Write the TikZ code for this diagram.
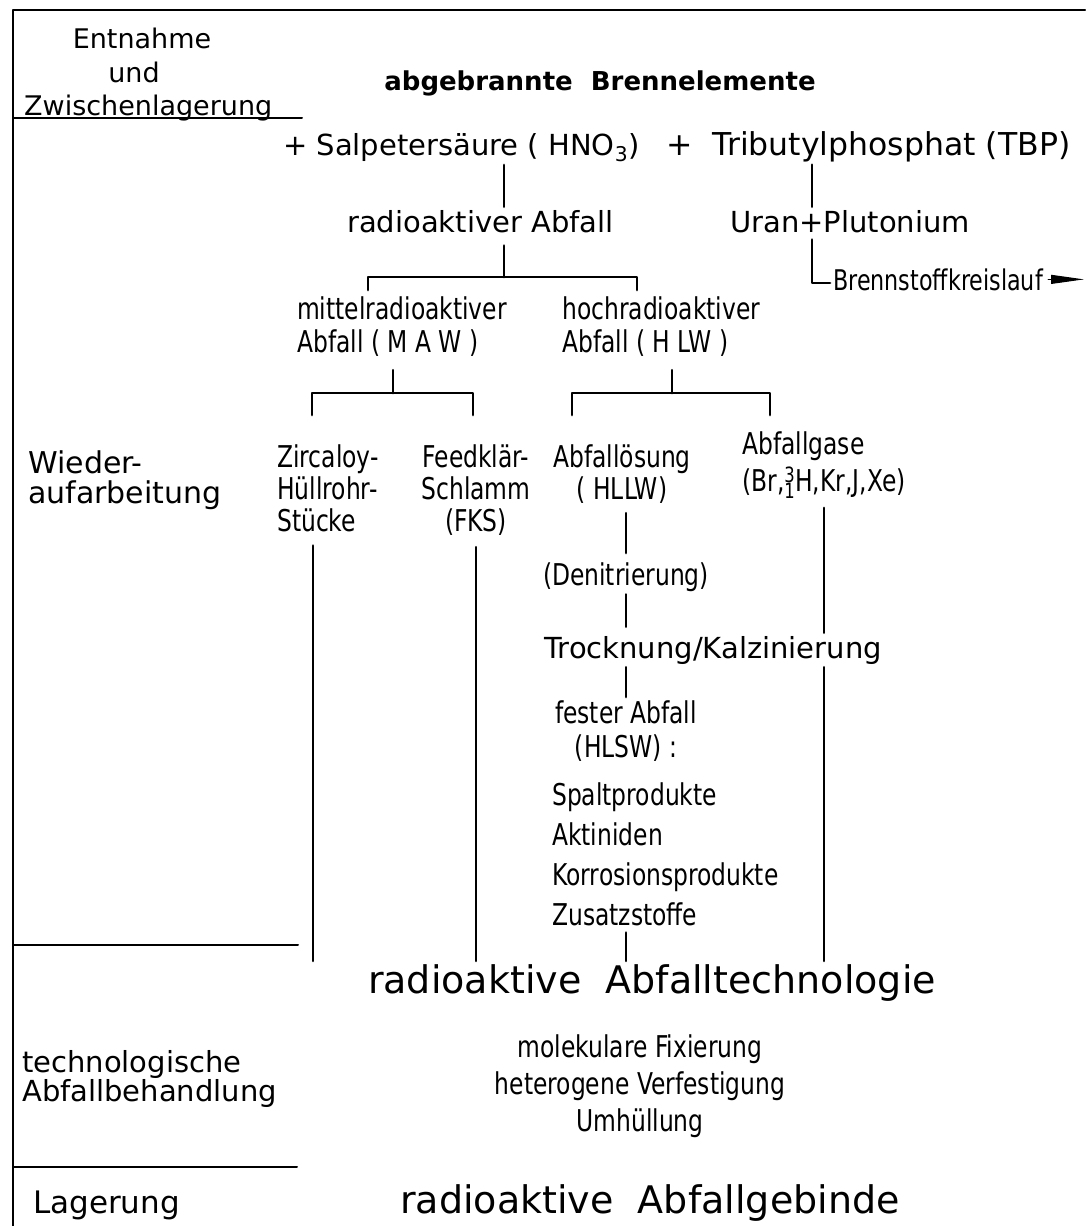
\documentclass[tikz,border=0pt]{standalone}
\usepackage{fontspec}
\setmainfont{DejaVu Sans}
\newfontfamily\narrowfont{DejaVu Sans}[FakeStretch=0.78]
\usetikzlibrary{arrows.meta}

\tikzset{
  wide/.style={font=\fontsize{29}{33}\selectfont, inner sep=3pt},
  narrow/.style={font=\narrowfont\fontsize{30}{32}\selectfont, inner sep=3pt},
  head/.style={font=\fontsize{38}{40}\selectfont, inner sep=3pt},
  link/.style={line width=2.8pt},
  rule/.style={line width=2pt},
  wedge/.style={line width=1pt, -{Triangle[length=33pt,width=9pt]}},
}

\begin{document}
\begin{tikzpicture}[x=1pt, y=-1pt, line join=round, line cap=round]
\useasboundingbox (0,0) rectangle (1085,1226);

% frame and left column
\draw[rule] (13,1226) -- (13,10) -- (1085,10);
\draw[rule] (13,118) -- (302,118);
\draw[rule] (13,945) -- (298,945);
\draw[rule] (13,1167) -- (297,1167);

\node[wide, font=\fontsize{27}{30}\selectfont, anchor=base] (entn) at (142,48) {Entnahme};
\node[wide, font=\fontsize{27}{30}\selectfont, anchor=base] (und) at (134,82) {und};
\node[wide, font=\fontsize{27}{30}\selectfont, anchor=base west] (zwl) at (21,115) {Zwischenlagerung};
\node[wide, font=\fontsize{30}{30}\selectfont, align=left, anchor=north west] (wied) at (25,448) {Wieder-\\aufarbeitung};
\node[wide, align=left, anchor=north west] (tbl) at (19,1047) {technologische\\[-4pt]Abfallbehandlung};
\node[wide, font=\fontsize{31}{33}\selectfont, anchor=base west] (lag) at (30,1213) {Lagerung};

% main column
\node[wide, font=\bfseries\fontsize{26}{30}\selectfont, anchor=base] (title) at (600,90) {abgebrannte\ \ Brennelemente};
\node[wide, anchor=base west] (salp) at (280,155) {+ Salpetersäure ( HNO\textsubscript{3})};
\node[wide, font=\fontsize{31.5}{33}\selectfont, anchor=base west] (tbp) at (663,155) {+ \ Tributylphosphat (TBP)};
\node[wide, anchor=base west] (rad) at (344,232) {radioaktiver Abfall};
\node[wide, anchor=base west] (uran) at (727,232) {Uran+Plutonium};
\node[narrow, font=\narrowfont\fontsize{28.5}{30}\selectfont, anchor=base west] (bsk) at (830,290) {Brennstoffkreislauf};

\node[narrow, font=\narrowfont\fontsize{30}{33}\selectfont, align=left, anchor=north west] (maw) at (294,294) {mittelradioaktiver\\Abfall ( M A W )};
\node[narrow, font=\narrowfont\fontsize{30}{33}\selectfont, align=left, anchor=north west] (hlw) at (559,294) {hochradioaktiver\\Abfall ( H LW )};

\node[narrow, align=left, anchor=north west] (zirc) at (274,442) {Zircaloy-\\Hüllrohr-\\Stücke};
\node[narrow, align=center, anchor=north] (fks) at (476,442) {Feedklär-\\Schlamm\\(FKS)};
\node[narrow, align=center, anchor=north] (hllw) at (622,442) {Abfallösung\\( HLLW)};
\node[narrow, font=\narrowfont\fontsize{30}{37}\selectfont, align=left, anchor=north west] (gas) at (739,429)
  {Abfallgase\\(Br,\rlap{\textsuperscript{3}}\textsubscript{1}H,Kr,J,Xe)};

\node[narrow, anchor=base] (den) at (626,585) {(Denitrierung)};
\node[wide, anchor=base] (trock) at (713,658) {Trocknung/Kalzinierung};
\node[narrow, font=\narrowfont\fontsize{30}{34}\selectfont, align=center, anchor=north] (fest) at (626,697) {fester Abfall\\(HLSW) :};
\node[narrow, font=\narrowfont\fontsize{30}{40}\selectfont, align=left, anchor=north west] (list) at (549,779)
  {Spaltprodukte\\Aktiniden\\Korrosionsprodukte\\Zusatzstoffe};

\node[head, anchor=base] (tech) at (652,993) {radioaktive\ \ Abfalltechnologie};
\node[narrow, font=\narrowfont\fontsize{30}{37}\selectfont, align=center, anchor=north] (fix) at (640,1031)
  {molekulare Fixierung\\heterogene Verfestigung\\Umhüllung};
\node[head, anchor=base] (geb) at (650,1213) {radioaktive\ \ Abfallgebinde};

% junctions
\path
(504,277) coordinate (b1)
(368,290) coordinate (b1l)
(637,290) coordinate (b1r)
(393,393) coordinate (b2)
(312,415) coordinate (b2l)
(473,415) coordinate (b2r)
(672,393) coordinate (b3)
(572,415) coordinate (b3l)
(770,415) coordinate (b3r)
(812,283) coordinate (u1)
(313,0) coordinate (zx)
(1084,0) coordinate (tip)
;

% connectors
\draw[link] (b1 |- salp.south) -- (b1 |- rad.north);
\draw[link, shorten <=10pt] (b1 |- rad.south) -- (b1);
\draw[link] (b1l) |- (b1) -| (b1r);
\draw[link, shorten <=10pt] (b2 |- maw.south) -- (b2);
\draw[link] (b2l) |- (b2) -| (b2r);
\draw[link, shorten <=10pt] (b3 |- hlw.south) -- (b3);
\draw[link] (b3l) |- (b3) -| (b3r);

\draw[link] (u1 |- tbp.south) -- (u1 |- uran.north);
\draw[link, shorten <=4pt] (u1 |- uran.south) -- (u1) -- (bsk.west |- u1);
\draw[wedge, shorten <=2pt] (bsk.east) -- (bsk.east -| tip);

\draw[link, shorten <=10pt] (zirc.south -| zx) -- (tech.north -| zx);
\draw[link, shorten <=8pt] (fks.south) -- (fks.south |- tech.north);
\draw[link, shorten <=6pt, shorten >=6pt] (den.north |- hllw.south) -- (den.north);
\draw[link, shorten >=6pt] (den.south) -- (den.south |- trock.north);
\draw[link] (den.south |- trock.south) -- (den.south |- fest.north);
\draw[link, shorten <=4pt] (den.south |- list.south) -- (den.south |- tech.north);
\draw[link, shorten <=6pt] (gas.south) -- (gas.south |- trock.north);
\draw[link] (gas.south |- trock.south) -- (gas.south |- tech.north);
\end{tikzpicture}
\end{document}
